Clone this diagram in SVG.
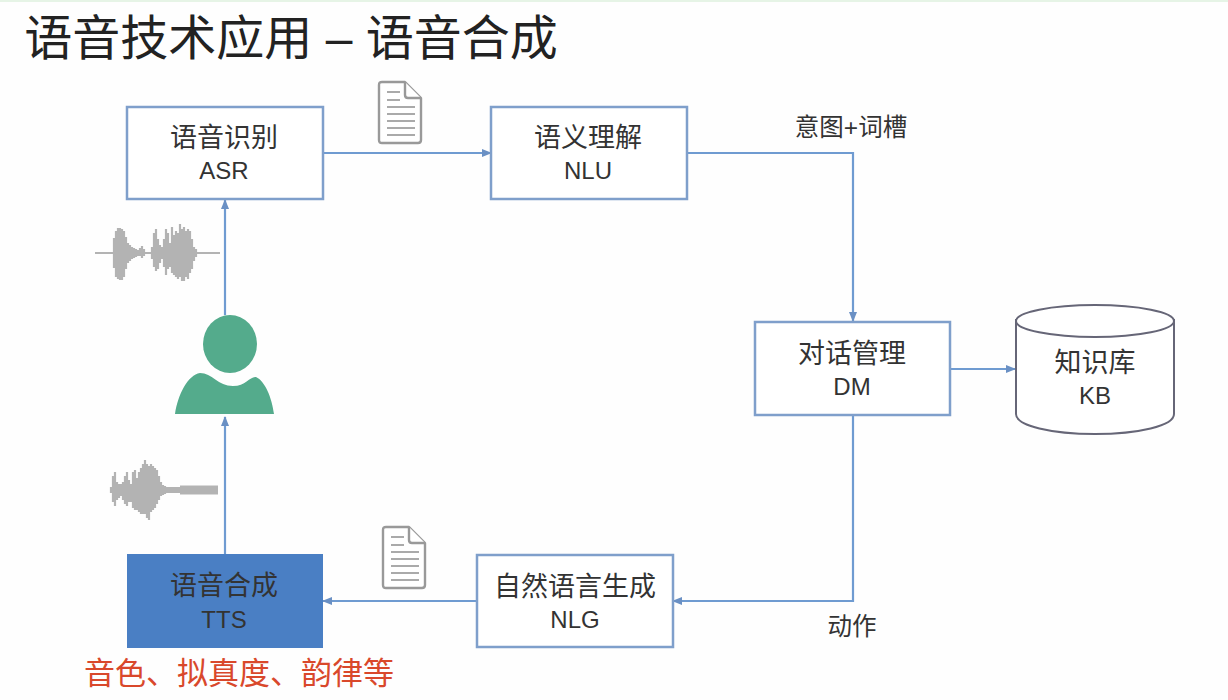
<svg xmlns="http://www.w3.org/2000/svg" width="1228" height="700" viewBox="0 0 1228 700">
<style>
text{font-family:"Liberation Sans","Noto Sans CJK SC",sans-serif;fill:#333;text-anchor:middle}
.l{font-size:27px}
.e{font-size:24px}
.s{font-size:24.5px}
.box{fill:#fff;stroke:#7f9fcb;stroke-width:2.5}
.c{fill:none;stroke:#6f9bd1;stroke-width:2.2}
.doc{fill:#fff;stroke:#999;stroke-width:2.4;stroke-linejoin:round}
.ln{stroke:#aaa;stroke-width:2}
.wave{stroke:#b3b3b3;stroke-width:2.2;fill:none}
</style>
<defs>
<marker id="a" markerWidth="10" markerHeight="8" refX="9" refY="4" orient="auto" markerUnits="userSpaceOnUse"><path d="M0 0L10 4L0 8z" fill="#6a90c4"/></marker>
<g id="docicon">
<path class="doc" d="M2 0H25L41 16V58Q41 61 38 61H2Q-1 61 -1 58V3Q-1 0 2 0Z"/>
<path class="doc" d="M25 0V13Q25 16 28 16H41"/>
<path class="ln" d="M7 10H20M7 18H20M7 25H35M7 32H35M7 39H35M7 46H35M7 53H35"/>
</g>
</defs>
<rect width="1228" height="700" fill="#fefefe"/>
<rect width="1228" height="2" fill="#e6f4e6"/>
<text x="291" y="55" style="font-size:48px;fill:#222">语音技术应用 – 语音合成</text>
<g id="connectors">
<path class="c" d="M323 153H491" marker-end="url(#a)"/>
<path class="c" d="M688 153H853V321" marker-end="url(#a)"/>
<path class="c" d="M951 369H1015" marker-end="url(#a)"/>
<path class="c" d="M853 416V601H673" marker-end="url(#a)"/>
<path class="c" d="M476 601H323" marker-end="url(#a)"/>
<path class="c" d="M225 554V417" marker-end="url(#a)"/>
<path class="c" d="M225 315V200" marker-end="url(#a)"/>
</g>
<g id="asr"><rect class="box" x="127" y="107" width="196" height="92"/><text class="l" x="224" y="147">语音识别</text><text class="e" x="224" y="179">ASR</text></g>
<g id="nlu"><rect class="box" x="491" y="107" width="196" height="92"/><text class="l" x="588" y="147">语义理解</text><text class="e" x="588" y="179">NLU</text></g>
<g id="dm"><rect class="box" x="755" y="322" width="195" height="93"/><text class="l" x="852" y="363">对话管理</text><text class="e" x="852" y="395">DM</text></g>
<g id="kb">
<path d="M1016 319V414C1016 426 1052 434 1095 434C1138 434 1174 426 1174 414V319" fill="#fff" stroke="#667" stroke-width="2"/>
<ellipse cx="1095" cy="321" rx="79" ry="16" fill="#fff" stroke="#667" stroke-width="2"/>
<text class="l" x="1095" y="372">知识库</text><text class="e" x="1095" y="404">KB</text>
</g>
<g id="nlg"><rect class="box" x="477" y="555" width="196" height="92"/><text class="l" x="575" y="596">自然语言生成</text><text class="e" x="575" y="628">NLG</text></g>
<g id="tts"><rect x="127" y="554" width="196" height="94" fill="#4a7fc4"/><text class="l" x="224" y="595">语音合成</text><text class="e" x="224" y="628">TTS</text></g>
<g id="user">
<ellipse cx="230" cy="344" rx="27" ry="29" fill="#54ab8c"/>
<path d="M175 414C178 394 188 375 200 373C212 373 218 386 233 386C246 386 250 376 256 377C265 381 272 398 274 414Z" fill="#54ab8c"/>
</g>
<g id="wave1">
<path class="wave" d="M95 253H220M114 238V268M116 231V277M118 228V279M120 228V280M122 229V280M124 231V277M126 237V269M128 243V263M130 245V261M132 247V259M134 248V258M136 249V257M138 250V256M140 248V256M142 246V258M144 249V256M152 247V259M154 233V267M156 229V271M158 239V269M160 245V263M162 247V259M164 239V267M166 229V275M168 233V269M170 243V267M172 227V273M174 235V275M176 231V277M178 233V279M180 224V277M182 229V281M184 227V281M186 231V277M188 229V279M190 231V273M192 239V269M194 247V261M196 249V257"/>
</g>
<g id="wave2">
<path class="wave" d="M111 487V493M113 476V502M115 472V506M117 482V500M119 484V498M121 484V496M123 482V500M125 476V504M127 472V506M129 480V502M131 484V502M133 472V508M135 470V510M137 478V510M139 472V512M141 468V514M143 464V514M145 460V514M147 464V518M149 466V520M151 464V512M153 466V510M155 468V508M157 470V504M159 476V500M161 482V496M163 485V495M165 486V494"/>
<path d="M165 490H182" stroke="#b3b3b3" stroke-width="6" fill="none"/>
<path d="M180 490H218" stroke="#b3b3b3" stroke-width="9" fill="none"/>
</g>
<use id="doc1" href="#docicon" x="380" y="82"/>
<use id="doc2" href="#docicon" x="384" y="527"/>
<text class="s" x="851" y="136">意图+词槽</text>
<text class="s" x="852" y="635">动作</text>
<text x="239" y="684" style="font-size:31px;fill:#d9482b">音色、拟真度、韵律等</text>
</svg>
